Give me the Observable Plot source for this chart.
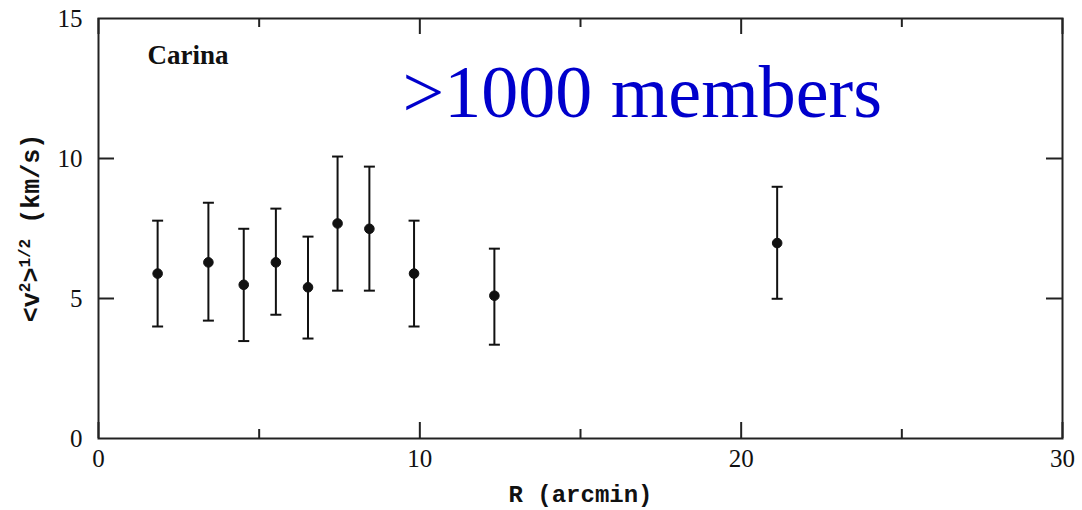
<!DOCTYPE html>
<html>
<head>
<meta charset="utf-8">
<script src="https://cdn.jsdelivr.net/npm/d3@7"></script>
<script src="https://cdn.jsdelivr.net/npm/@observablehq/plot@0.6"></script>
<style>
  html, body { margin: 0; padding: 0; background: #fff; }
</style>
</head>
<body>
<div id="chart"></div>
<script>
// Data
const radius = [1.84, 3.42, 4.52, 5.52, 6.52, 7.44, 8.43, 9.82, 12.32, 21.12];
const sigma  = [5.89, 6.29, 5.49, 6.29, 5.40, 7.68, 7.49, 5.89, 5.10, 6.98];
const errLo  = [4.00, 4.21, 3.48, 4.42, 3.57, 5.28, 5.28, 4.00, 3.35, 4.99];
const errHi  = [7.78, 8.42, 7.49, 8.21, 7.21, 10.07, 9.71, 7.78, 6.78, 8.99];

const xTicks = [0, 10, 20, 30];
const xMinor = [5, 15, 25];
const yTicks = [0, 5, 10, 15];
const yInner = [5, 10];

const galaxyName = "Carina";
const annotation = ">1000 members";
const xLabel = "R (arcmin)";

const data = radius.map((r, i) => ({R: r, s: sigma[i], lo: errLo[i], hi: errHi[i]}));

const W = 1082, H = 510;
const mL = 98, mR = 20, mT = 18, mB = 72;
const innerW = W - mL - mR, innerH = H - mT - mB;
const ink = "#111";

const capSymbol = {
  draw(ctx, size) {
    const w = Math.sqrt(size / Math.PI);
    ctx.moveTo(-w, 0);
    ctx.lineTo(w, 0);
  }
};

const chart = Plot.plot({
  width: W,
  height: H,
  marginLeft: mL,
  marginRight: mR,
  marginTop: mT,
  marginBottom: mB,
  style: {background: "#fff", overflow: "visible", fontFamily: "Liberation Serif"},
  x: {domain: [0, 30]},
  y: {domain: [0, 15]},
  marks: [
    Plot.frame({stroke: "#222", strokeWidth: 2}),
    // inward ticks
    Plot.tickX(xTicks, {x: d => d, insetTop: innerH - 16, stroke: "#222", strokeWidth: 2}),
    Plot.tickX(xMinor, {x: d => d, insetTop: innerH - 9, stroke: "#222", strokeWidth: 2}),
    Plot.tickX(xTicks, {x: d => d, insetBottom: innerH - 16, stroke: "#222", strokeWidth: 2}),
    Plot.tickX(xMinor, {x: d => d, insetBottom: innerH - 9, stroke: "#222", strokeWidth: 2}),
    Plot.tickY(yInner, {y: d => d, insetRight: innerW - 16, stroke: "#222", strokeWidth: 2}),
    Plot.tickY(yInner, {y: d => d, insetLeft: innerW - 16, stroke: "#222", strokeWidth: 2}),
    Plot.axisX({ticks: xTicks, tickSize: 0, tickPadding: 11, fontSize: 25, label: null, fill: "#111"}),
    Plot.axisY({ticks: yTicks, tickSize: 0, tickPadding: 16, fontSize: 25, label: null, fill: "#111"}),
    // error bars
    Plot.ruleX(data, {x: "R", y1: "lo", y2: "hi", stroke: ink, strokeWidth: 2}),
    Plot.dot(data, {x: "R", y: "lo", symbol: capSymbol, r: 5.5, stroke: ink, strokeWidth: 2, fill: "none"}),
    Plot.dot(data, {x: "R", y: "hi", symbol: capSymbol, r: 5.5, stroke: ink, strokeWidth: 2, fill: "none"}),
    Plot.dot(data, {x: "R", y: "s", r: 4.8, fill: ink, stroke: ink, strokeWidth: 1}),
    // annotations
    Plot.text([galaxyName], {text: d => d, frameAnchor: "top-left", dx: 49, dy: 45, lineAnchor: "bottom", textAnchor: "start", fontSize: 27, fontWeight: "bold", fontFamily: "Liberation Serif", fill: "#111"}),
    Plot.text([annotation], {text: d => d, frameAnchor: "top-left", dx: 304, dy: 98, lineAnchor: "bottom", textAnchor: "start", fontSize: 74, fontFamily: "Liberation Serif", fill: "#0000cc"}),
    Plot.text([xLabel], {text: d => d, frameAnchor: "bottom", dy: 56, lineAnchor: "middle", fontSize: 24, fontFamily: "Liberation Mono", fontWeight: "bold", fill: "#111"})
  ]
});

document.getElementById("chart").appendChild(chart);

// y-axis label with superscripts
const svg = d3.select(chart);
const yl = svg.append("text")
  .attr("transform", `translate(39, ${mT + innerH / 2}) rotate(-90)`)
  .attr("text-anchor", "middle")
  .attr("font-family", "Liberation Mono")
  .attr("font-weight", "bold")
  .attr("font-size", 25)
  .attr("fill", "#111");
yl.append("tspan").text("<v");
yl.append("tspan").attr("dy", -9).attr("font-size", 16).text("2");
yl.append("tspan").attr("dy", 9).text(">");
yl.append("tspan").attr("dy", -9).attr("font-size", 16).text("1/2");
yl.append("tspan").attr("dy", 9).text(" (km/s)");
</script>
</body>
</html>
